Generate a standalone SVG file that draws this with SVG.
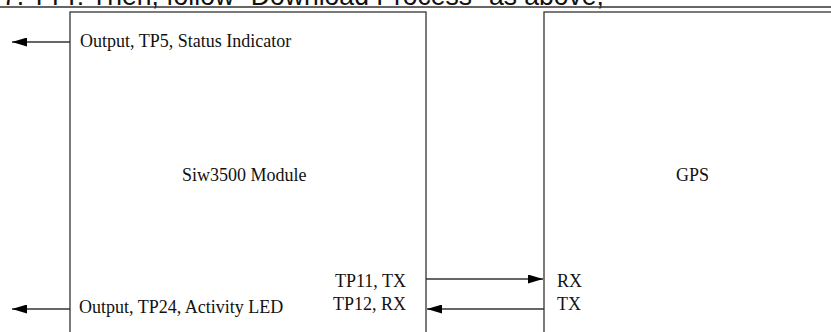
<svg xmlns="http://www.w3.org/2000/svg" width="831" height="332" viewBox="0 0 831 332">
<style>
.t{font-family:"Liberation Serif","Times New Roman",serif;font-size:18px;fill:#111}
.box{fill:none;stroke:#333;stroke-width:1.3}
.ln{stroke:#333;stroke-width:1.3;fill:none}
</style>
<defs>
<marker id="ah" viewBox="0 0 15 9" refX="15" refY="4.5" markerWidth="15" markerHeight="9" markerUnits="userSpaceOnUse" orient="auto">
<path d="M0,0 L15,4.5 L0,9 Z" fill="#000"/>
</marker>
</defs>
<rect width="831" height="332" fill="#fff"/>
<text x="2" y="5" font-family="Liberation Sans, Arial, sans-serif" font-size="28" fill="#111" textLength="602" lengthAdjust="spacingAndGlyphs">7. TTT: Then, follow "Download Process" as above,</text>
<line x1="0" y1="7" x2="831" y2="7" stroke="#333" stroke-width="1.5"/>
<g id="siw3500">
<rect class="box" x="70" y="12" width="356" height="340"/>
<text class="t" x="182" y="181">Siw3500 Module</text>
<text class="t" x="80" y="47">Output, TP5, Status Indicator</text>
<text class="t" x="79" y="313">Output, TP24, Activity LED</text>
<text class="t" x="406" y="287" text-anchor="end">TP11, TX</text>
<text class="t" x="406" y="310" text-anchor="end">TP12, RX</text>
</g>
<g id="gps">
<rect class="box" x="544" y="12" width="320" height="340"/>
<text class="t" x="676" y="181">GPS</text>
<text class="t" x="557" y="287">RX</text>
<text class="t" x="557" y="310">TX</text>
</g>
<g id="connectors">
<line class="ln" x1="70" y1="42" x2="12" y2="42" marker-end="url(#ah)"/>
<line class="ln" x1="70" y1="309" x2="12" y2="309" marker-end="url(#ah)"/>
<line class="ln" x1="426" y1="279" x2="543" y2="279" marker-end="url(#ah)"/>
<line class="ln" x1="544" y1="309" x2="427" y2="309" marker-end="url(#ah)"/>
</g>
</svg>
